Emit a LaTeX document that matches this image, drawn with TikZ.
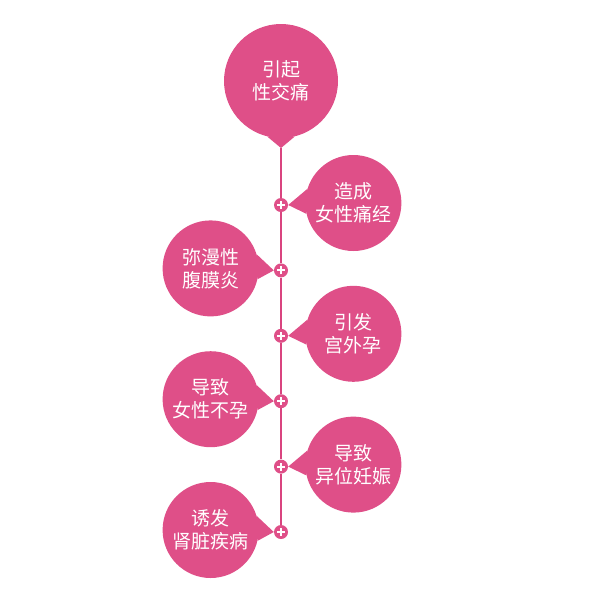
\documentclass[tikz,border=0pt]{standalone}
\usepackage{fontspec}
\newfontfamily\cjk{Noto Sans CJK SC}
\usetikzlibrary{positioning}
\definecolor{rose}{HTML}{DF4F88}
\definecolor{roseline}{HTML}{D9447F}

\begin{document}
\begin{tikzpicture}[x=1pt, y=1pt, node distance=51pt,
    bubble/.style={circle, fill=rose, text=white, minimum size=96pt, inner sep=0pt,
                   align=center, font=\cjk\fontsize{19}{23}\selectfont},
    plusmark/.style={circle, fill=rose, minimum size=14pt, inner sep=0pt,
                   path picture={\draw[white, line width=2pt]
                     ([xshift=-4pt]path picture bounding box.center) -- ([xshift=4pt]path picture bounding box.center)
                     ([yshift=-4pt]path picture bounding box.center) -- ([yshift=4pt]path picture bounding box.center);}},
    stem/.style={draw=roseline, line width=1.2pt}]
    \useasboundingbox (0,0) rectangle (610,-598);

    \node[bubble, minimum size=114pt]     (pain)    at (281,-81) {引起\\性交痛};
    \coordinate                           (tip)     at (281,-148);
    \fill[rose] (pain.256) -- (tip) -- (pain.284) -- cycle;

    \node[plusmark]                       (p1)      at (281,-205) {};
    \node[plusmark, below=of p1]          (p2)      {};
    \node[plusmark, below=of p2]          (p3)      {};
    \node[plusmark, below=of p3]          (p4)      {};
    \node[plusmark, below=of p4]          (p5)      {};
    \node[plusmark, below=of p5]          (p6)      {};

    \node[bubble, right=17pt of p1, yshift=2pt] (cramps)  {造成\\女性痛经};
    \node[bubble, left=15pt of p2, yshift=2pt]  (perit)   {弥漫性\\腹膜炎};
    \node[bubble, right=17pt of p3, yshift=2pt] (ectopic) {引发\\宫外孕};
    \node[bubble, left=15pt of p4, yshift=2pt]  (infert)  {导致\\女性不孕};
    \node[bubble, right=17pt of p5, yshift=2pt] (abnorm)  {导致\\异位妊娠};
    \node[bubble, left=15pt of p6, yshift=2pt]  (kidney)  {诱发\\肾脏疾病};

    % pointers towards the plus marks
    \fill[rose] (cramps.163)  -- (p1.east) -- (cramps.193)  -- cycle;
    \fill[rose] (perit.17)    -- (p2.west) -- (perit.-13)   -- cycle;
    \fill[rose] (ectopic.163) -- (p3.east) -- (ectopic.193) -- cycle;
    \fill[rose] (infert.17)   -- (p4.west) -- (infert.-13)  -- cycle;
    \fill[rose] (abnorm.163)  -- (p5.east) -- (abnorm.193)  -- cycle;
    \fill[rose] (kidney.17)   -- (p6.west) -- (kidney.-13)  -- cycle;

    % the stem between the marks
    \draw[stem] (tip) -- (p1) -- (p2) -- (p3) -- (p4) -- (p5) -- (p6);
\end{tikzpicture}
\end{document}
